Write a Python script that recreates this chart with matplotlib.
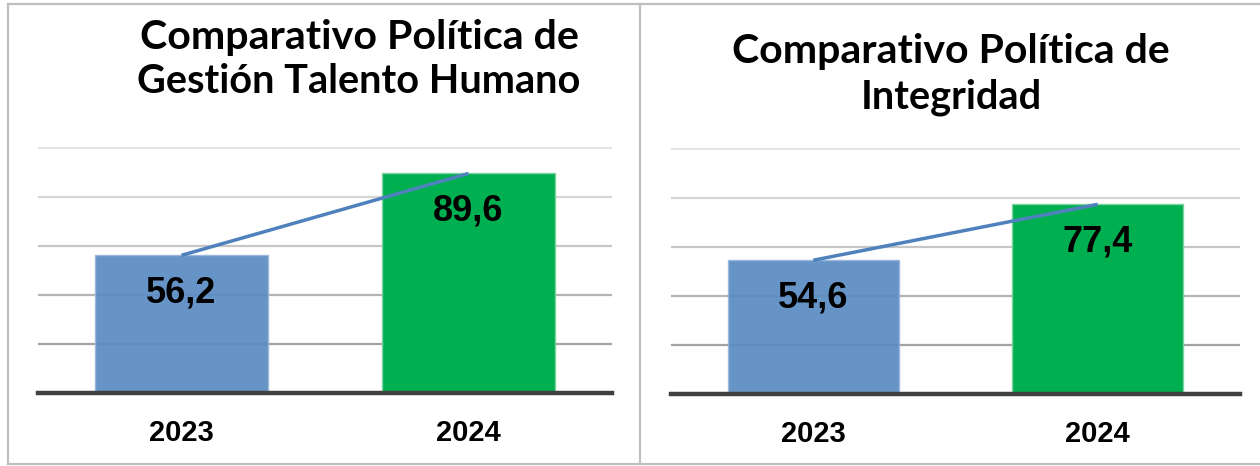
import matplotlib
matplotlib.use("Agg")
import matplotlib.pyplot as plt
from matplotlib.lines import Line2D

# data
years = ["2023", "2024"]
talento_values = [56.2, 89.6]
integridad_values = [54.6, 77.4]
talento_labels = ["56,2", "89,6"]
integridad_labels = ["54,6", "77,4"]
titles = [["Comparativo Política de", "Gestión Talento Humano"],
          ["Comparativo Política de", "Integridad"]]

W, H = 1260, 466
bar_colours = ["#5a8bc3", "#00b050"]
edge_colours = ["#9ab6dc", "#7fd3a3"]
line_colour = "#4f81bd"
grid_colours = ["#a3a3a3", "#b3b3b3", "#c6c6c6", "#d6d6d6", "#e4e4e4"]

fig = plt.figure(figsize=(W / 100, H / 100), dpi=100)
fig.patch.set_facecolor("white")


def px_axes(x0, x1, ybase, ymax=105):
    # axes placed in pixel coordinates, 2.45 px per unit
    height = 2.45 * ymax
    return fig.add_axes([x0 / W, (H - ybase) / H, (x1 - x0) / W, height / H])


def draw(ax, values, labels):
    xs = range(len(values))
    ax.set_xlim(-0.5, len(values) - 0.5)
    ax.set_ylim(0, 105)
    for y, c in zip([20, 40, 60, 80, 100], grid_colours):
        ax.axhline(y, color=c, linewidth=1.6, zorder=0)
    for i, v in enumerate(values):
        alpha = 0.92 if i == 0 else 1.0
        ax.bar(i, v, width=0.6, color=bar_colours[i], edgecolor=edge_colours[i],
               linewidth=1.0, alpha=alpha, zorder=2)
        ax.annotate(labels[i], (i, v), xytext=(0, -27), textcoords="offset points",
                    ha="center", va="center", fontsize=26, fontweight="bold",
                    family="Liberation Sans", zorder=5)
    ax.plot(list(xs), values, color=line_colour, linewidth=2.5, zorder=4,
            solid_capstyle="butt")
    ax.axhline(0, color="#404040", linewidth=3.2, zorder=3, clip_on=False)
    for s in ax.spines.values():
        s.set_visible(False)
    ax.set_yticks([])
    ax.set_xticks(list(xs))
    ax.set_xticklabels(years, fontsize=21, fontweight="bold", family="Liberation Sans")
    ax.tick_params(axis="x", length=0, pad=19)
    ax.patch.set_alpha(0)


def fit_title(x_center, y_base, text, target_w):
    t = fig.text(x_center / W, 1 - y_base / H, text, ha="center", va="baseline",
                 fontsize=20, fontweight="bold", family="Lato")
    fig.canvas.draw()
    w = t.get_window_extent().width
    t.set_fontsize(20 * target_w / w)
    return t


ax1 = px_axes(38, 612, 393)
draw(ax1, talento_values, talento_labels)
ax2 = px_axes(671, 1240, 394)
draw(ax2, integridad_values, integridad_labels)

fit_title(359, 49, titles[0][0], 438)
fit_title(359, 93, titles[0][1], 442)
fit_title(951, 63, titles[1][0], 437)
fit_title(951, 109, titles[1][1], 182)

# panel frames
frame = "#c0c0c0"
def fline(x0, y0, x1, y1):
    fig.add_artist(Line2D([x0 / W, x1 / W], [1 - y0 / H, 1 - y1 / H],
                          transform=fig.transFigure, color=frame, linewidth=1.6))

fline(8, 4, W, 4)
fline(8, 464, W, 464)
fline(8, 4, 8, 464)
fline(640, 4, 640, 464)

fig.savefig("out.png", dpi=100, facecolor="white")
